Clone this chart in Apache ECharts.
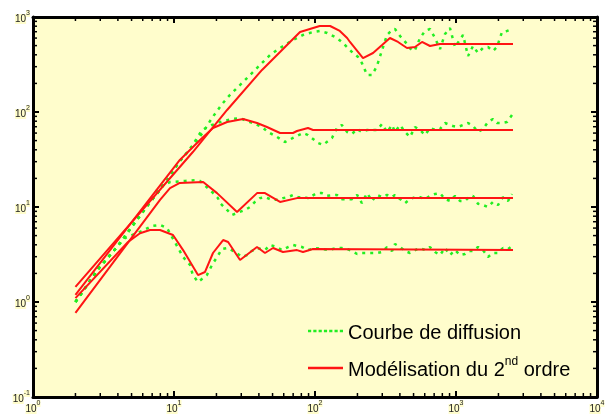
<!DOCTYPE html>
<html>
<head>
<meta charset="utf-8">
<script src="https://cdn.jsdelivr.net/npm/echarts@6/dist/echarts.min.js"></script>
<style>
  html, body { margin: 0; padding: 0; background: #fff; }
  #chart { width: 609px; height: 414px; }
</style>
</head>
<body>
<div id="chart"></div>
<script>
// décades des axes (étiquettes 10^n)
const xDecades = [1, 10, 100, 1000, 10000]
const yDecades = [0.1, 1, 10, 100, 1000]

// courbes de diffusion (mesures, pointillés verts)
const diffTop = [[2,1.0],[2.94,2.28],[3.94,3.79],[4.95,6.01],[5.93,8.65],[6.98,11.9],[7.96,15.1],[8.92,19.2],[9.84,23.4],[10.7,29.0],[12.0,35.3],[14.1,47.2],[16.1,61.6],[18.6,86.5],[21.9,121],[24.9,151],[30.4,202],[34.6,245],[40.7,312],[48.0,398],[53.8,450],[61.2,507],[69.8,573],[82.2,647],[96.8,695],[108,713],[122,679],[143,601],[158,532],[183,428],[202,379],[215,328],[234,245],[254,245],[275,305],[324,647],[352,730],[369,748],[401,631],[449,520],[488,439],[512,450],[556,601],[603,713],[654,748],[710,601],[770,460],[836,662],[906,766],[984,483],[1122,647],[1217,388],[1321,495],[1432,418],[1553,472],[1686,483],[1829,439],[1953,483],[2119,695],[2301,713],[2496,748]]
const diffSecond = [[2,1.0],[2.94,2.28],[3.94,3.79],[4.95,6.01],[5.93,8.65],[6.98,11.9],[7.96,15.1],[8.92,19.2],[9.84,23.4],[10.7,29.0],[12.0,35.3],[13.6,45.0],[15.8,64.7],[18.6,73.0],[22.3,80.3],[26.2,84.4],[29.4,86.5],[32.9,80.3],[36.3,76.6],[42.1,69.5],[46.4,61.6],[53.8,54.6],[61.2,48.3],[69.8,53.3],[82.2,60.1],[89.2,57.2],[105,47.2],[114,45.0],[132,53.3],[143,67.9],[155,73.0],[169,61.6],[183,58.7],[199,66.2],[215,61.6],[234,64.7],[254,64.7],[275,64.7],[299,74.8],[324,61.6],[352,73.0],[369,61.6],[401,73.0],[435,61.6],[472,54.6],[512,69.5],[556,64.7],[603,57.2],[654,67.9],[710,64.7],[770,66.2],[836,76.6],[906,73.0],[952,71.2],[1033,69.5],[1122,73.0],[1217,76.6],[1321,71.2],[1432,61.6],[1553,66.2],[1686,78.5],[1829,84.4],[1953,76.6],[2119,76.6],[2301,78.5],[2496,92.9]]
const diffThird = [[2,1.0],[2.94,2.28],[3.94,3.79],[4.95,6.01],[5.93,8.65],[6.98,11.9],[7.70,15.8],[9.37,18.3],[12.0,18.8],[14.1,19.2],[15.3,18.8],[18.6,14.4],[20.5,12.4],[21.2,11.0],[23.8,9.3],[25.8,8.24],[28.0,8.65],[31.9,9.3],[34.6,10.0],[37.5,11.3],[40.7,12.4],[44.2,12.7],[49.5,11.9],[54.7,11.9],[59.3,12.4],[64.4,12.7],[69.8,13.4],[75.7,12.7],[82.2,12.7],[89.2,12.4],[103,14.0],[112,14.0],[122,13.1],[143,13.4],[155,12.1],[169,12.1],[183,12.1],[199,13.4],[215,11.0],[234,14.0],[254,11.6],[275,13.4],[299,12.7],[324,13.4],[352,12.7],[369,13.4],[401,12.1],[435,11.0],[472,12.1],[512,12.7],[556,12.7],[603,12.1],[654,13.1],[710,13.7],[770,14.0],[836,12.1],[906,11.6],[984,13.1],[1067,11.6],[1158,11.6],[1236,12.7],[1321,13.1],[1432,10.8],[1553,10.5],[1686,10.0],[1829,11.3],[1986,10.5],[2153,12.7],[2340,11.6],[2496,13.7]]
const diffFourth = [[2,1.0],[2.94,2.28],[3.94,3.79],[4.49,4.72],[5.93,5.59],[6.98,6.31],[7.96,6.47],[8.92,6.01],[11.6,2.98],[13.0,2.45],[13.6,1.92],[14.8,1.62],[16.1,1.79],[17.1,1.92],[18.6,2.45],[20.2,2.98],[21.9,3.61],[24.2,3.70],[27.1,3.36],[30.4,2.98],[32.9,3.12],[34.6,3.36],[38.8,3.70],[44.2,3.52],[48.0,3.98],[53.8,3.79],[58.3,3.52],[64.4,3.79],[69.8,3.98],[80.9,3.79],[89.2,3.52],[100,3.70],[112,3.61],[124,3.52],[143,3.70],[155,3.70],[169,3.61],[183,3.44],[199,3.20],[215,3.28],[234,3.28],[254,3.28],[275,3.28],[299,3.36],[324,3.79],[352,3.44],[369,4.08],[401,3.79],[435,3.44],[472,3.28],[512,3.52],[556,3.70],[603,3.52],[654,3.79],[710,3.36],[770,3.12],[836,3.70],[906,3.12],[984,3.52],[1067,3.12],[1158,3.20],[1236,3.44],[1321,3.44],[1432,3.79],[1553,3.52],[1686,2.98],[1829,3.28],[1986,3.28],[2153,3.70],[2340,3.61],[2496,3.88]]

// modélisation du 2nd ordre (traits rouges)
const modelTop = [[2,1.44],[13.6,37.9],[23.8,105],[42.1,277],[56.5,428],[66.5,546],[78.3,695],[108,804],[128,804],[150,713],[169,601],[177,546],[219,370],[258,418],[299,507],[340,601],[388,546],[449,472],[512,483],[574,546],[654,495],[770,520],[2536,520]]
const modelSecond = [[2,1.19],[11.0,31.3],[15.3,50.7],[18.9,67.9],[23.8,78.5],[30.9,84.4],[38.8,76.6],[45.6,69.5],[56.5,60.1],[69.8,60.1],[74.5,63.1],[89.2,67.9],[96.8,64.7],[2536,64.7]]
const modelThird = [[2,0.77],[7.96,11.9],[9.37,15.8],[11.0,17.9],[16.1,18.3],[20.2,14.0],[28.0,8.85],[38.8,14.0],[44.2,14.0],[56.5,11.3],[74.5,12.4],[2536,12.4]]
const modelFourth = [[2,1.10],[4.72,4.28],[5.74,5.3],[6.76,5.73],[7.96,5.73],[9.84,5.07],[11.6,3.52],[14.8,1.92],[16.6,2.07],[18.9,3.28],[22.3,4.49],[24.2,4.28],[29.4,2.77],[38.8,3.79],[44.2,3.28],[50.4,3.70],[59.3,3.36],[74.5,3.52],[82.2,3.36],[96.8,3.61],[2536,3.52]]

const DIFF = 'Courbe de diffusion'
const MODEL = 'Modélisation du 2nd ordre'
const BG = '#fffdcc'
const GREEN = '#22ee22'
const RED = '#ff1414'

// icônes de légende : pointillé vert / trait rouge
const DOTTED_ICON = 'path://M0,0h3v2.5h-3zM5,0h3v2.5h-3zM10,0h3v2.5h-3zM15,0h3v2.5h-3zM20,0h3v2.5h-3zM25,0h3v2.5h-3zM30,0h3v2.5h-3z'
const SOLID_ICON = 'path://M0,0h35v2.5h-35z'

// graduations secondaires 2..9 x 10^n
function minorValues(decades) {
  let vals = []
  for (let i = 0; i < decades.length - 1; i++) {
    for (let m = 2; m <= 9; m++) vals.push(+(m * decades[i]).toPrecision(3))
  }
  return vals
}
const xMinor = minorValues(xDecades)
const yMinor = minorValues(yDecades)

const labelRich = {
  b: { fontSize: 10, fontFamily: 'Liberation Sans, Arial', color: '#222', backgroundColor: BG, lineHeight: 14, verticalAlign: 'bottom' },
  e: { fontSize: 7, fontFamily: 'Liberation Sans, Arial', color: '#222', backgroundColor: BG, lineHeight: 14, verticalAlign: 'top' },
}
function powLabel(v) {
  return '{b|10}{e|' + Math.round(Math.log10(v)) + '}'
}

function axisBase(min, max, pos, showLabel) {
  return {
    type: 'log',
    logBase: 10,
    min: min,
    max: max,
    position: pos,
    axisLine: { show: true, onZero: false, lineStyle: { color: '#000', width: 3 } },
    axisTick: { show: true, inside: true, length: 6, lineStyle: { color: '#000', width: 2 } },
    splitLine: { show: false },
    axisLabel: showLabel
      ? { show: true, margin: 3, formatter: powLabel, rich: labelRich }
      : { show: false },
  }
}

function lineSeries(name, data, color, width, type) {
  return {
    name: name,
    type: 'line',
    data: data,
    symbol: 'none',
    smooth: false,
    lineStyle: { color: color, width: width, type: type },
    itemStyle: { color: color },
    z: type === 'solid' ? 3 : 2,
  }
}

let chart = echarts.init(document.getElementById('chart'), null, { renderer: 'canvas' })

let option = {
  animation: false,
  backgroundColor: '#fff',
  grid: { left: 33, right: 12, top: 17, bottom: 17, show: true, backgroundColor: BG, borderWidth: 0 },
  xAxis: [axisBase(xDecades[0], xDecades[4], 'bottom', true), axisBase(xDecades[0], xDecades[4], 'top', false)],
  yAxis: [axisBase(yDecades[0], yDecades[4], 'left', true), axisBase(yDecades[0], yDecades[4], 'right', false)],
  legend: {
    orient: 'vertical',
    left: 308,
    top: 323,
    padding: 0,
    itemWidth: 35,
    itemHeight: 3,
    itemGap: 13,
    data: [
      { name: DIFF, icon: DOTTED_ICON },
      { name: MODEL, icon: SOLID_ICON },
    ],
    formatter: (name) => (name === MODEL ? '{t|Modélisation du 2}{s|nd}{t| ordre}' : '{t|' + name + '}'),
    textStyle: {
      rich: {
        t: { fontSize: 20, fontFamily: 'Liberation Sans, Arial', color: '#000', lineHeight: 24, verticalAlign: 'bottom' },
        s: { fontSize: 12, fontFamily: 'Liberation Sans, Arial', color: '#000', lineHeight: 24, verticalAlign: 'top' },
      },
    },
  },
  series: [
    lineSeries(DIFF, diffTop, GREEN, 2.5, [3, 5]),
    lineSeries(DIFF, diffSecond, GREEN, 2.5, [3, 5]),
    lineSeries(DIFF, diffThird, GREEN, 2.5, [3, 5]),
    lineSeries(DIFF, diffFourth, GREEN, 2.5, [3, 5]),
    lineSeries(MODEL, modelTop, RED, 2, 'solid'),
    lineSeries(MODEL, modelSecond, RED, 2, 'solid'),
    lineSeries(MODEL, modelThird, RED, 2, 'solid'),
    lineSeries(MODEL, modelFourth, RED, 2, 'solid'),
    {
      // petites graduations haut / bas
      type: 'custom',
      silent: true,
      z: 5,
      data: xMinor.map((v) => [v, 1]),
      renderItem: (params, api) => {
        let cs = params.coordSys
        let px = api.coord([api.value(0), 1])[0]
        let st = { stroke: '#000', lineWidth: 1.5 }
        return {
          type: 'group',
          children: [
            { type: 'line', shape: { x1: px, y1: cs.y + cs.height, x2: px, y2: cs.y + cs.height - 4 }, style: st },
            { type: 'line', shape: { x1: px, y1: cs.y, x2: px, y2: cs.y + 4 }, style: st },
          ],
        }
      },
    },
    {
      // petites graduations gauche / droite
      type: 'custom',
      silent: true,
      z: 5,
      data: yMinor.map((v) => [10, v]),
      renderItem: (params, api) => {
        let cs = params.coordSys
        let py = api.coord([10, api.value(1)])[1]
        let st = { stroke: '#000', lineWidth: 1.5 }
        return {
          type: 'group',
          children: [
            { type: 'line', shape: { x1: cs.x, y1: py, x2: cs.x + 4, y2: py }, style: st },
            { type: 'line', shape: { x1: cs.x + cs.width, y1: py, x2: cs.x + cs.width - 4, y2: py }, style: st },
          ],
        }
      },
    },
  ],
}
chart.setOption(option)
</script>
</body>
</html>
